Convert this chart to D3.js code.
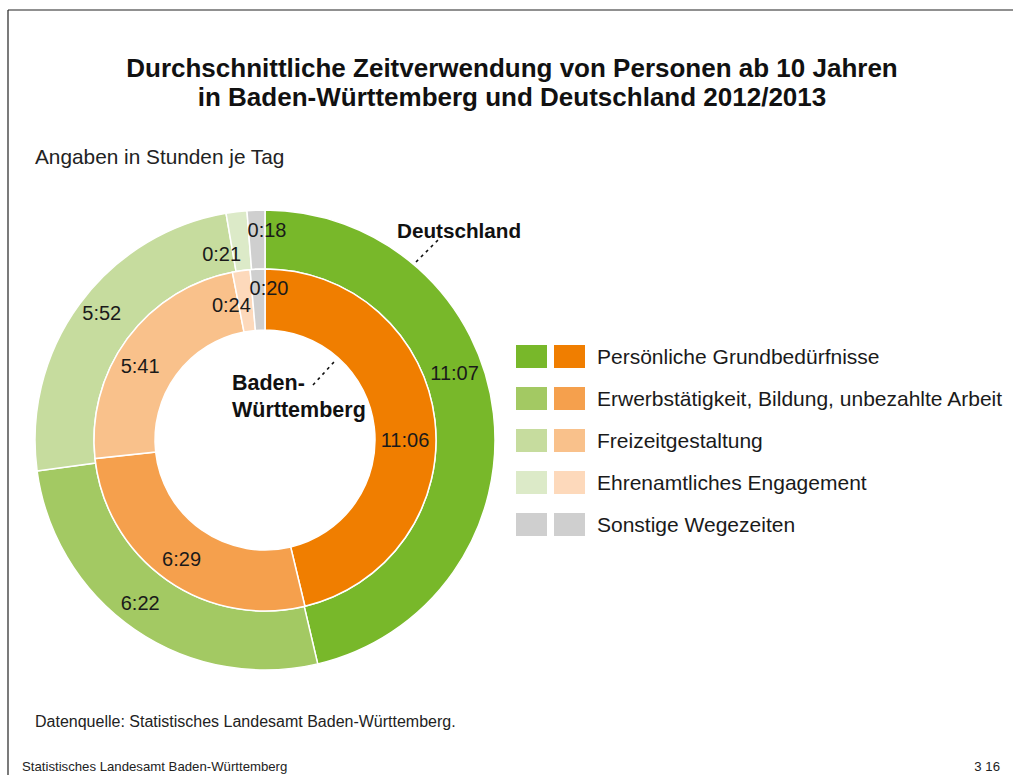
<!DOCTYPE html>
<html>
<head>
<meta charset="utf-8">
<script src="https://cdn.jsdelivr.net/npm/d3@7"></script>
<style>
  body { margin: 0; background: #fff; }
  svg { display: block; font-family: "Liberation Sans", Arial, sans-serif; }
</style>
</head>
<body>
<svg id="chart" width="1013" height="775"></svg>
<script>
// categories (same order for both rings, clockwise from 12 o'clock)
var categories = [
  'Persönliche Grundbedürfnisse',
  'Erwerbstätigkeit, Bildung, unbezahlte Arbeit',
  'Freizeitgestaltung',
  'Ehrenamtliches Engagement',
  'Sonstige Wegezeiten'
];
// minutes per day
var deutschland = [667, 382, 352, 21, 18];       // 11:07, 6:22, 5:52, 0:21, 0:18
var badenWuerttemberg = [666, 389, 341, 24, 20]; // 11:06, 6:29, 5:41, 0:24, 0:20

var greens = ['#78b82a', '#a3c963', '#c6dc9e', '#dceac8', '#cfcfcf'];
var oranges = ['#f07e00', '#f5a04d', '#f9c18b', '#fdd9bb', '#cfcfcf'];

var svg = d3.select('#chart');
var cx = 265, cy = 440;

// frame: top and left rule only
svg.append('line').attr('x1', 8).attr('x2', 1013).attr('y1', 10).attr('y2', 10)
  .attr('stroke', '#222').attr('stroke-width', 1.2);
svg.append('line').attr('x1', 8).attr('x2', 8).attr('y1', 10).attr('y2', 775)
  .attr('stroke', '#222').attr('stroke-width', 1.2);

svg.append('text').attr('x', 512).attr('y', 77).attr('text-anchor', 'middle')
  .attr('font-size', 26).attr('font-weight', 'bold').attr('fill', '#111')
  .text('Durchschnittliche Zeitverwendung von Personen ab 10 Jahren');
svg.append('text').attr('x', 512).attr('y', 106).attr('text-anchor', 'middle')
  .attr('font-size', 26).attr('font-weight', 'bold').attr('fill', '#111')
  .text('in Baden-Württemberg und Deutschland 2012/2013');

svg.append('text').attr('x', 35).attr('y', 164)
  .attr('font-size', 20.8).attr('fill', '#222')
  .text('Angaben in Stunden je Tag');

var fmt = function (m) {
  var mm = m % 60;
  return Math.floor(m / 60) + ':' + (mm < 10 ? '0' : '') + mm;
};

var pie = d3.pie().sort(null).value(function (d) { return d; });
var g = svg.append('g').attr('transform', 'translate(' + cx + ',' + cy + ')');

// rings: outer = Deutschland, inner = Baden-Württemberg
var rings = [
  { values: deutschland, colors: greens, inner: 171, outer: 230,
    labelR: [201, 205, 207, 191, 210], nudge: [-12.8, 3, 1.7, -6, 2.8] },
  { values: badenWuerttemberg, colors: oranges, inner: 110, outer: 171,
    labelR: [140, 145, 145, 139, 152], nudge: [6.8, 0, -5.8, -6, 4] }
];

rings.forEach(function (ring) {
  var arc = d3.arc().innerRadius(ring.inner).outerRadius(ring.outer);
  var arcs = pie(ring.values);
  g.selectAll(null).data(arcs).enter().append('path')
    .attr('d', arc)
    .attr('fill', function (d, i) { return ring.colors[i]; })
    .attr('stroke', '#fff').attr('stroke-width', 1.5);

  g.selectAll(null).data(arcs).enter().append('text')
    .attr('transform', function (d, i) {
      var a = (d.startAngle + d.endAngle) / 2 + ring.nudge[i] * Math.PI / 180;
      var p = d3.pointRadial(a, ring.labelR[i]);
      return 'translate(' + p[0] + ',' + p[1] + ')';
    })
    .attr('text-anchor', 'middle').attr('dy', '0.35em')
    .attr('font-size', 20).attr('fill', '#1a1a1a')
    .text(function (d) { return fmt(d.data); });
});

// ring captions with dashed leaders
svg.append('text').attr('x', 397).attr('y', 238)
  .attr('font-size', 20.7).attr('font-weight', 'bold').attr('fill', '#111')
  .text('Deutschland');
svg.append('line').attr('x1', 416).attr('y1', 262).attr('x2', 438).attr('y2', 240)
  .attr('stroke', '#111').attr('stroke-width', 1.6).attr('stroke-dasharray', '3,4');

svg.append('text').attr('x', 232).attr('y', 390)
  .attr('font-size', 21.5).attr('font-weight', 'bold').attr('fill', '#111')
  .text('Baden-');
svg.append('text').attr('x', 232).attr('y', 417)
  .attr('font-size', 21.5).attr('font-weight', 'bold').attr('fill', '#111')
  .text('Württemberg');
svg.append('line').attr('x1', 313).attr('y1', 385).attr('x2', 334).attr('y2', 362)
  .attr('stroke', '#111').attr('stroke-width', 1.6).attr('stroke-dasharray', '3,4');

// legend
var legend = svg.append('g').attr('transform', 'translate(516,345)');
var rows = legend.selectAll(null).data(categories).enter().append('g')
  .attr('transform', function (d, i) { return 'translate(0,' + (i * 42) + ')'; });
rows.append('rect').attr('width', 31).attr('height', 23)
  .attr('fill', function (d, i) { return greens[i]; });
rows.append('rect').attr('x', 38).attr('width', 31).attr('height', 23)
  .attr('fill', function (d, i) { return oranges[i]; });
rows.append('text').attr('x', 81).attr('y', 19)
  .attr('font-size', 21).attr('fill', '#1a1a1a')
  .text(function (d) { return d; });

svg.append('text').attr('x', 35).attr('y', 727)
  .attr('font-size', 16).attr('fill', '#222')
  .text('Datenquelle: Statistisches Landesamt Baden-Württemberg.');
svg.append('text').attr('x', 22).attr('y', 771)
  .attr('font-size', 13.2).attr('fill', '#222')
  .text('Statistisches Landesamt Baden-Württemberg');
svg.append('text').attr('x', 1000).attr('y', 771).attr('text-anchor', 'end')
  .attr('font-size', 13.2).attr('fill', '#222')
  .text('3 16');
</script>
</body>
</html>
